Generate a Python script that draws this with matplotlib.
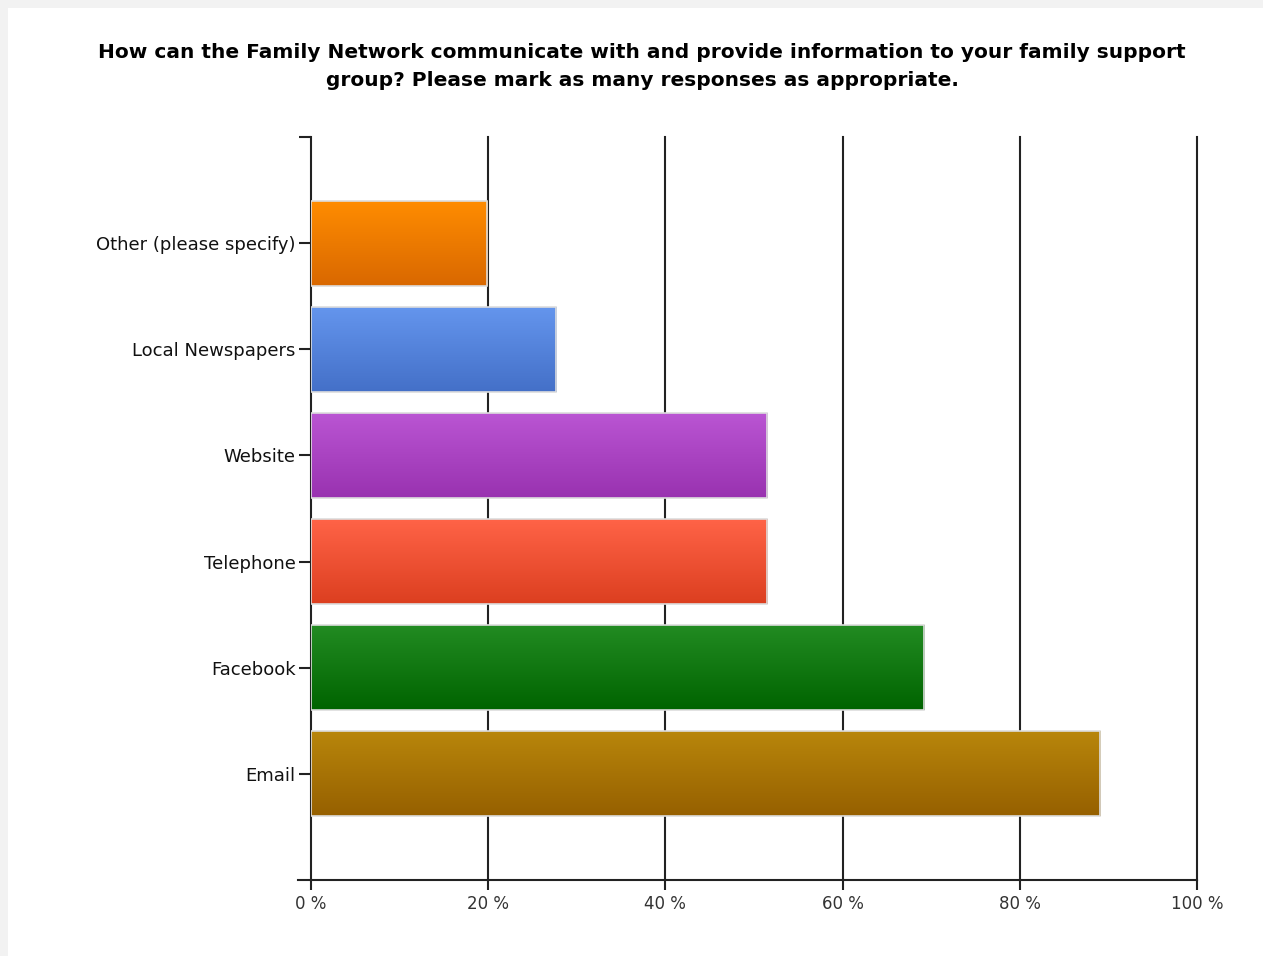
import numpy as np
import matplotlib.pyplot as plt
from matplotlib.colors import LinearSegmentedColormap
from matplotlib.patches import Rectangle

# data (bottom to top)
categories = ['Email', 'Facebook', 'Telephone', 'Website', 'Local Newspapers', 'Other (please specify)']
values = [89.1, 69.2, 51.5, 51.5, 27.7, 19.9]
top_colors = ['#B8860B', '#228B22', '#FF6347', '#BA55D3', '#6495ED', '#FF8C00']
bottom_colors = ['#966000', '#006400', '#DC3F20', '#9932B0', '#4470C8', '#D96800']
xticks = [0, 20, 40, 60, 80, 100]

title = ("How can the Family Network communicate with and provide information to your family support\n"
         "group? Please mark as many responses as appropriate.")


def main():
    fig = plt.figure(figsize=(12.63, 9.56), dpi=100)
    fig.patch.set_facecolor('#f2f2f2')
    # white panel
    panel = Rectangle((8 / 1263, 0), 1, 1 - 8 / 956, transform=fig.transFigure,
                      facecolor='white', edgecolor='none', zorder=-10)
    fig.add_artist(panel)

    ax = fig.add_axes([311 / 1263, 1 - 880 / 956, 886 / 1263, 743 / 956])
    ax.set_facecolor('none')
    ax.set_zorder(5)

    pos = np.arange(1, len(categories) + 1)
    h = 0.8
    grad = np.linspace(0, 1, 100).reshape(-1, 1)
    for p, v, c1, c2 in zip(pos, values, top_colors, bottom_colors):
        cmap = LinearSegmentedColormap.from_list('g', [c1, c2])
        ax.imshow(grad, cmap=cmap, aspect='auto', extent=(0, v, p - h / 2, p + h / 2),
                  origin='upper', zorder=3, interpolation='bilinear')
        ax.barh(p, v, height=h, facecolor='none', edgecolor='#dddddd', linewidth=1.2, zorder=4)

    ax.set_xlim(0, 100)
    ax.set_ylim(0, 7)

    # gridlines
    for t in xticks[1:]:
        ax.axvline(t, color='#222222', linewidth=1.5, zorder=1, clip_on=False)

    ax.set_xticks(xticks)
    ax.set_xticklabels([f'{t} %' for t in xticks])
    ax.set_yticks(pos)
    ax.set_yticklabels(categories)
    ax.set_yticks([7], minor=True)
    ax.tick_params(axis='x', direction='out', length=7.5, width=1.5, color='#222222',
                   labelsize=12, labelcolor='#333333', pad=3.5)
    ax.tick_params(axis='y', which='major', direction='out', length=8.6, width=1.5, color='#222222',
                   labelsize=13, labelcolor='#111111', pad=2.5)
    ax.tick_params(axis='y', which='minor', direction='out', length=8.6, width=1.5, color='#222222')

    for s in ['top', 'right']:
        ax.spines[s].set_visible(False)
    for s in ['left', 'bottom']:
        ax.spines[s].set_linewidth(1.5)
        ax.spines[s].set_color('#222222')
    ax.spines['bottom'].set_bounds(-1.5, 100)
    ax.spines['bottom'].set_clip_on(False)

    fig.text(642 / 1263, 1 - 66 / 956, title, ha='center', va='center', fontsize=14.5,
             fontweight='bold', color='#000000', linespacing=1.6)

    fig.savefig('out.png', dpi=100)


if __name__ == '__main__':
    main()
